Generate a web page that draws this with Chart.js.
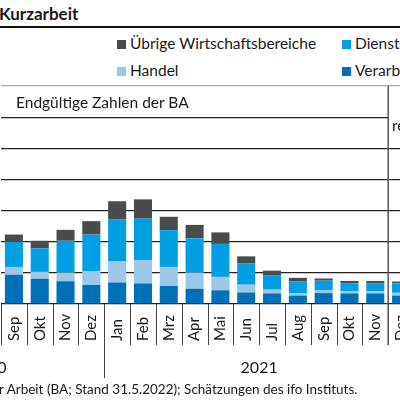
<!DOCTYPE html>
<html lang="de">
<head>
    <meta charset="UTF-8">
    <title>Kurzarbeit</title>
    <style>
        body {
            margin: 0;
            width: 400px;
            height: 400px;
            overflow: hidden;
            position: relative;
            background: #fff;
            font-family: Lato, "Noto Sans", sans-serif;
            color: #1a1a1a;
        }

        .abs {
            position: absolute;
            white-space: nowrap;
        }

        .title {
            left: -1px;
            top: 3px;
            font-size: 17px;
            font-weight: bold;
        }

        .rule {
            position: absolute;
            left: 0;
            top: 26px;
            width: 400px;
            height: 2px;
            background: #111;
        }

        .legend-item {
            position: absolute;
            font-size: 15.5px;
            line-height: 18px;
            white-space: nowrap;
        }

        .legend-item span.box {
            display: inline-block;
            width: 9px;
            height: 9px;
            margin-right: 4px;
            vertical-align: 0px;
        }

        .panel-label {
            font-size: 15.5px;
        }

        .source {
            font-size: 13.5px;
        }

        canvas {
            position: absolute;
            left: -40px;
            top: 0;
        }
    </style>
</head>
<body>
    <div class="abs title">Kurzarbeit</div>
    <div class="rule"></div>

    <div id="legend"></div>

    <canvas id="kurzarbeit-chart" width="460" height="400"></canvas>

    <div class="abs panel-label" style="left:16px; top:93px;">Endgültige Zahlen der BA</div>
    <div class="abs panel-label" style="left:392px; top:116px;">realisiert</div>

    <div class="abs source" style="left:-1px; top:381px;"><span class="abs" style="right:100%;">Quelle: Bundesagentur fü</span>r Arbeit (BA; Stand 31.5.2022); Schätzungen des ifo Instituts.</div>

    <script src="https://cdn.jsdelivr.net/npm/chart.js"></script>
    <script>
        // months shown (Sep 2020 - Dez 2021), values in million persons
        const months = ['Sep', 'Okt', 'Nov', 'Dez', 'Jan', 'Feb', 'Mrz', 'Apr', 'Mai', 'Jun', 'Jul', 'Aug', 'Sep', 'Okt', 'Nov', 'Dez'];
        const years = ['2020', '2021'];
        const yearFirst = [-5, 4];   // month index where each year starts (2020 starts before the crop)
        const yearLast = [3, 15];
        const firstEstimate = 15;    // Dez 2021: no final BA numbers yet

        const verarbeitend = [0.94, 0.81, 0.73, 0.61, 0.69, 0.66, 0.58, 0.49, 0.44, 0.37, 0.34, 0.27, 0.35, 0.34, 0.34, 0.27];
        const handel = [0.25, 0.22, 0.28, 0.45, 0.69, 0.75, 0.61, 0.52, 0.43, 0.25, 0.12, 0.07, 0.10, 0.07, 0.07, 0.09];
        const dienstleister = [0.80, 0.76, 1.02, 1.17, 1.33, 1.33, 1.18, 1.10, 1.06, 0.69, 0.45, 0.39, 0.30, 0.25, 0.25, 0.30];
        const uebrige = [0.24, 0.24, 0.35, 0.43, 0.59, 0.62, 0.43, 0.43, 0.37, 0.22, 0.16, 0.11, 0.07, 0.08, 0.08, 0.06];

        const yTicks = [0, 1, 2, 3, 4, 5, 6, 7];

        const colors = {
            verarbeitend: '#0070b9',
            handel: '#9bc7e8',
            dienstleister: '#009fe3',
            uebrige: '#4b4b4b'
        };

        // legend, laid out like the original (2 x 2)
        const legendItems = [
            { text: 'Übrige Wirtschaftsbereiche', color: colors.uebrige, left: 117, top: 34 },
            { text: 'Dienstleister', color: colors.dienstleister, left: 342, top: 34 },
            { text: 'Handel', color: colors.handel, left: 117, top: 61 },
            { text: 'Verarbeitendes Gewerbe', color: colors.verarbeitend, left: 342, top: 61 }
        ];
        const legendEl = document.getElementById('legend');
        legendItems.forEach(item => {
            const div = document.createElement('div');
            div.className = 'legend-item';
            div.style.left = item.left + 'px';
            div.style.top = item.top + 'px';
            div.innerHTML = `<span class="box" style="background:${item.color}"></span>${item.text}`;
            legendEl.appendChild(div);
        });

        // month labels, separators, year labels, panel divider
        const axisPlugin = {
            id: 'axisDecor',
            afterDraw(chart) {
                const ctx = chart.ctx;
                const area = chart.chartArea;
                const x = chart.scales.x;
                const y = chart.scales.y;
                const w = (area.right - area.left) / months.length;
                const divX = area.left + firstEstimate * w;

                // no gridline at 6 in the estimate panel (label sits there)
                const y6 = y.getPixelForValue(6);
                ctx.clearRect(divX + 1, y6 - 2, chart.width, 4);

                ctx.save();
                ctx.strokeStyle = '#444';
                ctx.lineWidth = 1;
                for (let i = 0; i <= months.length; i++) {
                    const px = Math.round(area.left + i * w) + 0.5;
                    const long = months[i] === 'Jan';
                    ctx.beginPath();
                    ctx.moveTo(px, area.bottom);
                    ctx.lineTo(px, area.bottom + (long ? 74 : 41));
                    ctx.stroke();
                }

                ctx.strokeStyle = '#555';
                ctx.lineWidth = 1.5;
                ctx.beginPath();
                ctx.moveTo(divX, area.top);
                ctx.lineTo(divX, area.bottom + 41);
                ctx.stroke();

                ctx.fillStyle = '#1a1a1a';
                ctx.font = '15px Lato';
                ctx.textAlign = 'left';
                ctx.textBaseline = 'middle';
                months.forEach((m, i) => {
                    ctx.save();
                    ctx.translate(x.getPixelForValue(i), area.bottom + 37);
                    ctx.rotate(-Math.PI / 2);
                    ctx.fillText(m, 0, 0);
                    ctx.restore();
                });

                ctx.font = '16px Lato';
                ctx.textAlign = 'center';
                years.forEach((yr, i) => {
                    const cx = area.left + ((yearFirst[i] + yearLast[i] + 1) / 2) * w;
                    ctx.fillText(yr, cx, area.bottom + 64);
                });
                ctx.restore();
            }
        };

        const ctx = document.getElementById('kurzarbeit-chart').getContext('2d');
        new Chart(ctx, {
            type: 'bar',
            data: {
                labels: months,
                datasets: [
                    { label: 'Verarbeitendes Gewerbe', data: verarbeitend, backgroundColor: colors.verarbeitend },
                    { label: 'Handel', data: handel, backgroundColor: colors.handel },
                    { label: 'Dienstleister', data: dienstleister, backgroundColor: colors.dienstleister },
                    { label: 'Übrige Wirtschaftsbereiche', data: uebrige, backgroundColor: colors.uebrige }
                ]
            },
            options: {
                responsive: false,
                animation: false,
                layout: {
                    padding: { top: 86, bottom: 96, left: 41, right: 6 }
                },
                datasets: {
                    bar: { barPercentage: 0.7, categoryPercentage: 1.0 }
                },
                plugins: {
                    legend: { display: false },
                    tooltip: { enabled: false }
                },
                scales: {
                    x: {
                        stacked: true,
                        display: false
                    },
                    y: {
                        stacked: true,
                        min: yTicks[0],
                        max: yTicks[yTicks.length - 1],
                        afterBuildTicks: axis => {
                            axis.ticks = yTicks.map(v => ({ value: v }));
                        },
                        ticks: { display: false },
                        border: { display: false },
                        grid: {
                            drawTicks: false,
                            lineWidth: 1.2,
                            color: c => c.tick.value === 7 ? '#a5a5a5' : '#222'
                        }
                    }
                }
            },
            plugins: [axisPlugin]
        });
    </script>
</body>
</html>
